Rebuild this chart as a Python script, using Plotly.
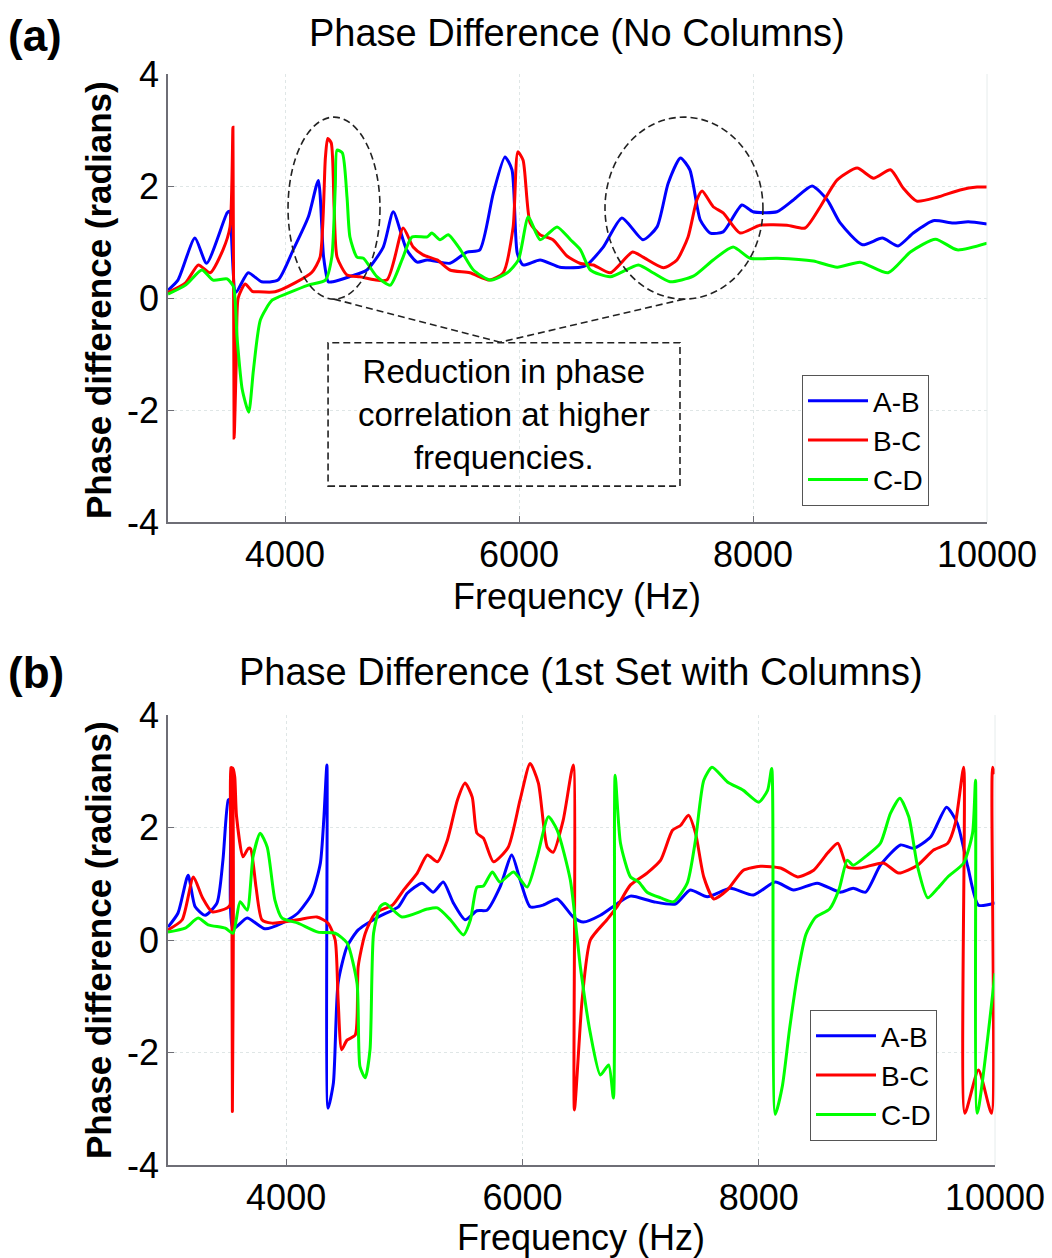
import plotly.graph_objects as go

# ---------------- DATA ----------------
# Panel (a): Phase Difference (No Columns)
a_ab_f = [3000, 3085, 3230, 3330, 3505, 3525, 3580, 3685, 3800, 3940, 4070, 4200, 4285, 4330, 4370, 4410,
          4550, 4700, 4840, 4925, 5040, 5130, 5215, 5410, 5555, 5665, 5780, 5880, 5940, 5985, 6035, 6180,
          6350, 6520, 6580, 6720, 6880, 7060, 7180, 7275, 7380, 7460, 7550, 7635, 7745, 7905, 8000, 8205,
          8345, 8505, 8635, 8745, 8935, 9105, 9240, 9370, 9540, 9710, 9840, 10000]
a_ab_v = [0.14, 0.32, 1.07, 0.62, 1.52, 1.55, 0.10, 0.45, 0.29, 0.32, 0.86, 1.45, 2.10, 0.73, 0.29, 0.29,
          0.38, 0.50, 0.91, 1.54, 0.86, 0.64, 0.68, 0.62, 0.82, 0.86, 1.87, 2.52, 2.29, 0.80, 0.59, 0.68,
          0.55, 0.55, 0.59, 0.91, 1.43, 1.04, 1.27, 2.05, 2.50, 2.29, 1.39, 1.16, 1.18, 1.66, 1.54, 1.54,
          1.75, 2.00, 1.75, 1.34, 0.95, 1.07, 0.93, 1.16, 1.38, 1.34, 1.36, 1.32]

a_bc_f = [3000, 3150, 3260, 3360, 3470, 3530, 3555, 3565, 3585, 3600, 3660, 3720, 3770, 3915, 4085, 4230,
          4300, 4345, 4365, 4395, 4420, 4445, 4530, 4640, 4870, 5010, 5095, 5180, 5300, 5410, 5580, 5750,
          5865, 5950, 5990, 6035, 6095, 6180, 6290, 6410, 6520, 6635, 6780, 6970, 7060, 7235, 7350, 7445,
          7520, 7565, 7660, 7745, 7890, 8060, 8290, 8445, 8575, 8720, 8890, 9030, 9175, 9285, 9400, 9575,
          9770, 9915, 10000]
a_bc_v = [0.10, 0.27, 0.59, 0.45, 0.86, 1.27, 3.05, -2.50, -1.00, 0.00, 0.25, 0.12, 0.11, 0.11, 0.27, 0.46,
          0.73, 2.50, 2.85, 2.77, 1.60, 0.73, 0.41, 0.38, 0.32, 1.25, 0.91, 0.77, 0.68, 0.50, 0.45, 0.32,
          0.45, 1.27, 2.61, 2.46, 1.34, 1.13, 1.04, 0.75, 0.62, 0.59, 0.45, 0.82, 0.73, 0.54, 0.68, 1.09,
          1.75, 1.91, 1.63, 1.52, 1.16, 1.30, 1.30, 1.25, 1.63, 2.11, 2.32, 2.14, 2.29, 1.96, 1.73, 1.80,
          1.93, 1.98, 1.98]

a_cd_f = [3000, 3150, 3290, 3385, 3505, 3560, 3590, 3635, 3690, 3730, 3790, 3890, 4030, 4200, 4345, 4400,
          4430, 4445, 4490, 4530, 4555, 4615, 4670, 4785, 4900, 5000, 5085, 5215, 5255, 5325, 5395, 5500,
          5610, 5755, 5900, 5995, 6080, 6180, 6325, 6440, 6525, 6610, 6780, 7020, 7145, 7290, 7490, 7660,
          7830, 7975, 8205, 8515, 8720, 8915, 9155, 9345, 9560, 9745, 10000]
a_cd_v = [0.07, 0.23, 0.50, 0.32, 0.34, 0.20, -0.70, -1.64, -2.04, -1.29, -0.39, -0.04, 0.09, 0.23, 0.32, 0.73,
          2.00, 2.64, 2.59, 1.80, 1.09, 0.73, 0.71, 0.38, 0.23, 0.68, 1.09, 1.09, 1.16, 1.04, 1.13, 0.86,
          0.50, 0.32, 0.45, 0.68, 1.45, 1.04, 1.27, 1.04, 0.86, 0.50, 0.38, 0.59, 0.45, 0.29, 0.39, 0.68,
          0.91, 0.71, 0.71, 0.66, 0.55, 0.64, 0.45, 0.82, 1.05, 0.86, 0.98]

# Panel (b): Phase Difference (1st Set with Columns)
b_ab_f = [3000, 3085, 3170, 3230, 3315, 3415, 3465, 3510, 3525, 3550, 3670, 3820, 3965, 4100, 4220, 4290,
          4320, 4345, 4355, 4400, 4440, 4515, 4610, 4780, 4950, 5025, 5150, 5245, 5330, 5415, 5515, 5615,
          5700, 5810, 5910, 5980, 6065, 6175, 6295, 6430, 6515, 6660, 6805, 6915, 7110, 7295, 7420, 7565,
          7760, 7955, 8140, 8295, 8495, 8690, 8800, 8905, 9030, 9200, 9310, 9455, 9590, 9680, 9770, 9860,
          10000]
b_ab_v = [0.23, 0.48, 1.15, 0.59, 0.44, 0.66, 1.42, 2.49, 2.50, 0.20, 0.39, 0.20, 0.30, 0.48, 0.83, 1.37,
          2.19, 3.11, -2.99, -2.54, -0.76, -0.12, 0.18, 0.41, 0.59, 0.83, 1.01, 0.85, 1.03, 0.66, 0.36, 0.52,
          0.53, 0.94, 1.51, 1.07, 0.59, 0.62, 0.73, 0.41, 0.32, 0.44, 0.65, 0.78, 0.68, 0.64, 0.89, 0.77,
          0.92, 0.80, 1.03, 0.89, 1.01, 0.85, 0.92, 0.85, 1.33, 1.69, 1.63, 1.83, 2.36, 2.08, 1.30, 0.62,
          0.66]

b_bc_f = [3000, 3120, 3215, 3290, 3375, 3500, 3525, 3532, 3540, 3545, 3550, 3565, 3580, 3635, 3680, 3700,
          3745, 3795, 3880, 4100, 4260, 4355, 4415, 4440, 4470, 4515, 4585, 4610, 4670, 4755, 4900, 4995,
          5110, 5195, 5280, 5365, 5450, 5515, 5575, 5615, 5670, 5755, 5880, 5980, 6065, 6135, 6210, 6260,
          6345, 6430, 6440, 6505, 6575, 6715, 6800, 6915, 7055, 7170, 7270, 7340, 7405, 7465, 7535, 7620,
          7735, 7870, 8015, 8185, 8330, 8465, 8585, 8670, 8750, 8860, 9055, 9185, 9345, 9480, 9600, 9665,
          9735, 9745, 9860, 9970, 9980, 10000]
b_bc_v = [0.18, 0.36, 1.12, 0.76, 0.50, 0.57, 0.62, 3.06, 3.06, -3.05, 3.06, 2.90, 2.20, 1.48, 1.63, 1.62,
          0.94, 0.36, 0.30, 0.36, 0.41, 0.30, 0.00, -1.07, -1.95, -1.78, -1.69, -0.47, 0.12, 0.48, 0.62, 0.89,
          1.19, 1.51, 1.39, 1.78, 2.49, 2.79, 2.54, 1.90, 1.81, 1.39, 1.65, 2.49, 3.14, 2.79, 1.65, 1.56,
          2.13, 3.11, -3.02, -1.07, 0.00, 0.36, 0.59, 0.98, 1.19, 1.42, 1.95, 2.04, 2.22, 1.90, 1.12, 0.73,
          0.89, 1.24, 1.31, 1.28, 1.12, 1.24, 1.55, 1.72, 1.30, 1.28, 1.37, 1.19, 1.33, 1.60, 1.72, 2.08,
          3.07, -3.08, -2.31, -3.08, 3.07, 2.95]

b_cd_f = [3000, 3145, 3255, 3340, 3485, 3550, 3610, 3670, 3720, 3780, 3840, 3905, 3965, 4100, 4270, 4415,
          4515, 4600, 4625, 4670, 4710, 4740, 4795, 4840, 4980, 5195, 5280, 5390, 5500, 5560, 5615, 5670,
          5745, 5810, 5925, 6040, 6125, 6220, 6295, 6405, 6490, 6575, 6660, 6730, 6770, 6785, 6830, 6915,
          6985, 7055, 7170, 7280, 7395, 7465, 7535, 7605, 7735, 7870, 8000, 8075, 8110, 8140, 8200, 8260,
          8330, 8400, 8480, 8600, 8680, 8750, 8800, 8920, 9030, 9115, 9195, 9270, 9345, 9430, 9515, 9600,
          9735, 9810, 9835, 9850, 10000]
b_cd_v = [0.14, 0.21, 0.39, 0.27, 0.21, 0.12, 0.68, 0.53, 1.48, 1.90, 1.65, 0.71, 0.39, 0.30, 0.14, 0.12,
          -0.05, -0.77, -2.25, -2.45, -1.95, 0.12, 0.59, 0.65, 0.41, 0.55, 0.57, 0.36, 0.09, 0.36, 0.94, 0.96,
          1.21, 1.03, 1.21, 0.94, 1.48, 2.19, 1.95, 1.07, -0.47, -1.66, -2.40, -2.22, -2.81, 2.93, 1.72, 1.12,
          1.03, 0.85, 0.75, 0.68, 1.01, 1.78, 2.84, 3.07, 2.81, 2.66, 2.45, 2.66, 3.05, -3.10, -2.60, -1.60,
          -0.60, 0.10, 0.40, 0.55, 0.90, 1.42, 1.33, 1.51, 1.72, 2.25, 2.52, 2.19, 1.30, 0.75, 0.92, 1.12,
          1.37, 1.90, 2.84, -3.08, -0.59]

series_names = ["A-B", "B-C", "C-D"]
series_colors = ["#0000ff", "#ff0000", "#00ff00"]
x_ticks = [4000, 6000, 8000, 10000]
x_tick_text = ["4000", "6000", "8000", "10000"]
y_ticks = [-4, -2, 0, 2, 4]
y_tick_text = ["-4", "-2", "0", "2", "4"]

# Annotation regions in panel (a)
ell1_f = [4026, 4812]
ell2_f = [6735, 8085]
ell_v = [-0.02, 3.23]
note_box_f = [4368, 7376]
note_box_v = [-3.36, -0.80]
note_point = [5838, -0.79]
note_text = "Reduction in phase<br>correlation at higher<br>frequencies."

# ---------------- FIGURE ----------------
W, H = 1052, 1258
FONT = "Liberation Sans, Arial, sans-serif"

def px(x):
    return x / W

def py(y):
    return 1 - y / H

fig = go.Figure()

panels = [
    ("x", "y", "legend", [(a_ab_f, a_ab_v), (a_bc_f, a_bc_v), (a_cd_f, a_cd_v)]),
    ("x2", "y2", "legend2", [(b_ab_f, b_ab_v), (b_bc_f, b_bc_v), (b_cd_f, b_cd_v)]),
]
for xa, ya, lg, data in panels:
    for (f, v), name, col in zip(data, series_names, series_colors):
        fig.add_trace(go.Scatter(x=f, y=v, mode="lines", name=name, xaxis=xa, yaxis=ya,
                                 legend=lg, line=dict(color=col, width=3, shape="spline", smoothing=0.6),
                                 hoverinfo="skip"))

axis_common = dict(
    showline=True, linecolor="#6e6e76", linewidth=1.5, mirror=False,
    ticks="inside", ticklen=6, tickcolor="#6e6e76", automargin=False,
    showgrid=True, gridcolor="#dfe6e6", griddash="dot", gridwidth=1,
    zeroline=False, tickfont=dict(family=FONT, size=36, color="black"),
)

fig.update_layout(
    width=W, height=H, margin=dict(l=0, r=0, t=0, b=0, autoexpand=False),
    paper_bgcolor="white", plot_bgcolor="white", showlegend=True,
    xaxis=dict(domain=[px(168), px(987)], anchor="y", range=[3000, 10000],
               tickvals=x_ticks, ticktext=x_tick_text, **axis_common),
    yaxis=dict(domain=[py(522), py(74)], anchor="x", range=[-4, 4],
               tickvals=y_ticks, ticktext=y_tick_text, **axis_common),
    xaxis2=dict(domain=[px(168), px(995)], anchor="y2", range=[3000, 10000],
                tickvals=x_ticks, ticktext=x_tick_text, **axis_common),
    yaxis2=dict(domain=[py(1165), py(715)], anchor="x2", range=[-4, 4],
                tickvals=y_ticks, ticktext=y_tick_text, **axis_common),
    legend=dict(x=px(802), y=py(375), xanchor="left", yanchor="top", bgcolor="white",
                bordercolor="#555555", borderwidth=1, font=dict(family=FONT, size=28, color="black"),
                itemwidth=60, tracegroupgap=0),
    legend2=dict(x=px(810), y=py(1010), xanchor="left", yanchor="top", bgcolor="white",
                 bordercolor="#555555", borderwidth=1, font=dict(family=FONT, size=28, color="black"),
                 itemwidth=60, tracegroupgap=0),
)

# plot-area right border (light)
for xr, yr in [("x domain", "y domain"), ("x2 domain", "y2 domain")]:
    fig.add_shape(type="line", xref=xr, yref=yr, x0=1, x1=1, y0=0, y1=1,
                  line=dict(color="#e6ecec", width=1))

# dashed ellipses, connectors and note box in panel (a)
dash = "7px,4px"
for ef in (ell1_f, ell2_f):
    fig.add_shape(type="circle", xref="x", yref="y", x0=ef[0], x1=ef[1], y0=ell_v[0], y1=ell_v[1],
                  line=dict(color="#222222", width=1.6, dash=dash))
    fig.add_shape(type="line", xref="x", yref="y", x0=(ef[0] + ef[1]) / 2, y0=ell_v[0],
                  x1=note_point[0], y1=note_point[1], line=dict(color="#222222", width=1.6, dash=dash))
fig.add_shape(type="rect", xref="x", yref="y", x0=note_box_f[0], x1=note_box_f[1],
              y0=note_box_v[0], y1=note_box_v[1], line=dict(color="#222222", width=1.6, dash=dash))
fig.add_annotation(xref="x", yref="y", x=(note_box_f[0] + note_box_f[1]) / 2,
                   y=(note_box_v[0] + note_box_v[1]) / 2, text=note_text, showarrow=False,
                   font=dict(family=FONT, size=33, color="black"), align="center")

# titles and labels
texts = [
    ("<b>(a)</b>", 6, 35, 44, "left", 0),
    ("Phase Difference (No Columns)", 577, 33, 38, "center", 0),
    ("<b>(b)</b>", 6, 672, 44, "left", 0),
    ("Phase Difference (1st Set with Columns)", 581, 672, 38, "center", 0),
    ("Frequency (Hz)", 577, 597, 36, "center", 0),
    ("Frequency (Hz)", 581, 1237, 36, "center", 0),
    ("<b>Phase difference (radians)</b>", 98, 300, 35, "center", -90),
    ("<b>Phase difference (radians)</b>", 98, 940, 35, "center", -90),
]
for t, x, y, s, xa, ang in texts:
    fig.add_annotation(xref="paper", yref="paper", x=px(x), y=py(y), text=t, showarrow=False,
                       xanchor=xa, yanchor="middle", textangle=ang,
                       font=dict(family=FONT, size=s, color="black"))

fig.write_html("out.html")
